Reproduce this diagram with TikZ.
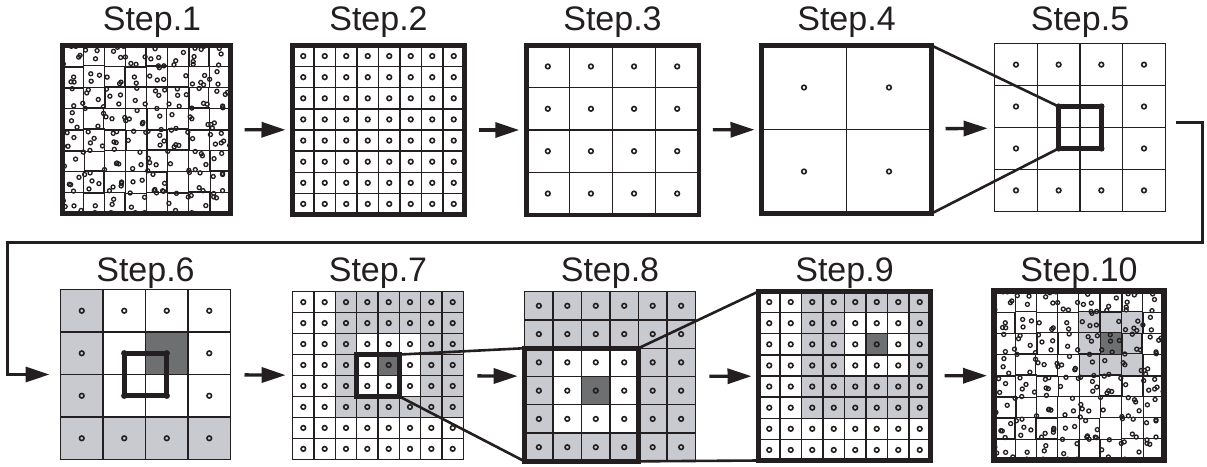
\documentclass[tikz,border=0pt]{standalone}
\usepackage{fontspec}
\setmainfont{Liberation Sans}
\usetikzlibrary{arrows.meta}
\pgfdeclarelayer{back}
\pgfsetlayers{back,main}

\definecolor{ink}{HTML}{231F20}
\definecolor{lightcell}{HTML}{C8CACF}
\definecolor{darkcell}{HTML}{6D6F71}

\tikzset{
  panel/.style={draw=ink, inner sep=0pt, outer sep=0pt},
  heavy/.style={line width=5pt},
  thin/.style={line width=1.4pt},
  gridline/.style={draw=ink, line width=1.3pt},
  pt/.style={draw=ink, line width=1.6pt},
  scat/.style={draw=ink, line width=1.3pt},
  zoomline/.style={draw=ink, line width=2.6pt},
  focus/.style={draw=ink, line width=5pt, line join=miter},
  flow/.style={draw=ink, line width=3.4pt, -{Triangle[length=24pt,width=15pt]},
    shorten <=14pt, shorten >=7pt},
  route/.style={draw=ink, line width=3pt, line join=miter,
    -{Triangle[length=24pt,width=15pt]}, shorten >=11pt},
  steplabel/.style={font=\fontsize{34}{40}\selectfont, anchor=base, text=ink, inner sep=0pt},
}

% grid lines of an n x n panel (cell units)
\newcommand\cellgrid[1]{%
  \pgfmathtruncatemacro\lastline{#1-1}%
  \foreach \k in {1,...,\lastline}{%
    \draw[gridline] (\k,0) -- (\k,#1);
    \draw[gridline] (0,\k) -- (#1,\k);
  }%
}
% one sample point at the centre of every cell
\newcommand\celldots[1]{%
  \foreach \c in {1,...,#1}{\foreach \r in {1,...,#1}{%
    \draw[pt] (\c-.5,\r-.5) circle[radius=2.3pt];}}%
}
% hand-drawn 8 x 8 grid with scattered sample points
\newcommand\scatterpanel{%
  \pgfmathsetseed{2024}%
  \foreach \k in {1,...,7}{\foreach \j in {0,...,7}{%
    \pgfmathsetmacro\jx{0.035*rand}\pgfmathsetmacro\jy{0.035*rand}%
    \draw[gridline] ({\k+(\jx)},\j) -- ({\k+(\jx)},\j+1);
    \draw[gridline] (\j,{\k+(\jy)}) -- (\j+1,{\k+(\jy)});
  }}%
  \foreach \k in {1,...,224}{%
    \pgfmathsetmacro\ja{rand}\pgfmathsetmacro\jb{rnd}\pgfmathsetmacro\jc{rand}%
    \pgfmathsetmacro\dx{max(0.04,min(7.96,8*frac(0.5+\k*0.7548777)+0.4*\ja))}%
    \pgfmathsetmacro\dy{max(0.04,min(7.96,8*frac(0.5+\k*0.5698403)+0.4*\jc))}%
    \draw[scat] (\dx,\dy) circle[radius=2pt];
  }%
}

\begin{document}
\begin{tikzpicture}[x=1pt, y=-1pt]
\useasboundingbox (0,0) rectangle (1207,466);

% ---------- panels ----------
\node[panel, heavy, minimum width=168pt,   minimum height=168pt]   (s1)  at (146.5,129.5) {};
\node[panel, heavy, minimum width=172pt,   minimum height=169pt]   (s2)  at (378.5,130)   {};
\node[panel, line width=4.5pt, minimum width=172.5pt, minimum height=169.5pt] (s3) at (612.5,130) {};
\node[panel, heavy, minimum width=170pt,   minimum height=168pt]   (s4)  at (846.5,129.5) {};
\node[panel, thin,  minimum width=170.7pt, minimum height=167.7pt] (s5)  at (1080,127.5)  {};
\node[panel, thin,  minimum width=170pt,   minimum height=170pt]   (s6)  at (145.5,374.5) {};
\node[panel, thin,  minimum width=170.7pt, minimum height=167.7pt] (s7)  at (378,375.5)   {};
\node[panel, thin,  minimum width=170.7pt, minimum height=169.7pt] (s8)  at (610,376.5)   {};
\node[panel, heavy, minimum width=172pt,   minimum height=169pt]   (s9)  at (844.5,376)   {};
\node[panel, line width=6pt, minimum width=170pt, minimum height=169pt] (s10) at (1079,375.5) {};

% ---------- labels ----------
\node[steplabel] (t1)  at (152,30)    {Step.1};
\node[steplabel] (t2)  at (378.5,30)  {Step.2};
\node[steplabel] (t3)  at (612.5,30)  {Step.3};
\node[steplabel] (t4)  at (846.5,30)  {Step.4};
\node[steplabel] (t5)  at (1080,30)   {Step.5};
\node[steplabel] (t6)  at (145.5,281) {Step.6};
\node[steplabel] (t7)  at (378,281)   {Step.7};
\node[steplabel] (t8)  at (610,281)   {Step.8};
\node[steplabel] (t9)  at (844.5,281) {Step.9};
\node[steplabel] (t10) at (1079,281)  {Step.10};

% ---------- panel contents ----------
\begin{scope}[shift={(s1.north west)}, x=21pt, y=-21pt]
  \scatterpanel
\end{scope}

\begin{scope}[shift={(s2.north west)}, x=21.5pt, y=-21.125pt]
  \cellgrid{8}\celldots{8}
\end{scope}

\begin{scope}[shift={(s3.north west)}, x=43.125pt, y=-42.375pt]
  \cellgrid{4}\celldots{4}
\end{scope}

\begin{scope}[shift={(s4.north west)}, x=85pt, y=-84pt]
  \cellgrid{2}\celldots{2}
\end{scope}

\begin{scope}[shift={(s5.north west)}, x=42.675pt, y=-41.925pt]
  \cellgrid{4}\celldots{4}
  \coordinate (f5nw) at (1.5,1.5);
  \coordinate (f5sw) at (1.5,2.5);
  \coordinate (f5se) at (2.5,2.5);
\end{scope}

\begin{scope}[shift={(s6.north west)}, x=42.5pt, y=-42.5pt]
  \begin{pgfonlayer}{back}
    \fill[lightcell] (0,0) rectangle (1,4);
    \fill[lightcell] (0,3) rectangle (4,4);
    \fill[darkcell] (2,1) rectangle (3,2);
  \end{pgfonlayer}
  \cellgrid{4}\celldots{4}
  \coordinate (f6nw) at (1.5,1.5);
  \coordinate (f6se) at (2.5,2.5);
\end{scope}

\begin{scope}[shift={(s7.north west)}, x=21.3375pt, y=-20.9625pt]
  \begin{pgfonlayer}{back}
    \fill[lightcell] (2,0) rectangle (8,6);
    \fill[white] (3,2) rectangle (6,5);
    \fill[darkcell] (4,3) rectangle (5,4);
  \end{pgfonlayer}
  \cellgrid{8}\celldots{8}
  \coordinate (f7nw) at (3,3);
  \coordinate (f7ne) at (5,3);
  \coordinate (f7se) at (5,5);
\end{scope}

\begin{scope}[shift={(s8.north west)}, x=28.45pt, y=-28.283pt]
  \begin{pgfonlayer}{back}
    \fill[lightcell] (0,0) rectangle (6,6);
    \fill[white] (1,2) rectangle (4,5);
    \fill[darkcell] (2,3) rectangle (3,4);
  \end{pgfonlayer}
  \cellgrid{6}\celldots{6}
  \coordinate (f8nw) at (0,2);
  \coordinate (f8ne) at (4,2);
  \coordinate (f8sw) at (0,6);
  \coordinate (f8se) at (4,6);
\end{scope}

\begin{scope}[shift={(s9.north west)}, x=21.5pt, y=-21.125pt]
  \begin{pgfonlayer}{back}
    \fill[lightcell] (2,0) rectangle (8,6);
    \fill[white] (4,1) rectangle (7,4);
    \fill[darkcell] (5,2) rectangle (6,3);
  \end{pgfonlayer}
  \cellgrid{8}\celldots{8}
\end{scope}

\begin{scope}[shift={(s10.north west)}, x=21.25pt, y=-21.125pt]
  \begin{pgfonlayer}{back}
    \fill[lightcell] (4,1) rectangle (7,4);
    \fill[darkcell] (5,2) rectangle (6,3);
  \end{pgfonlayer}
  \scatterpanel
\end{scope}

% ---------- zoom guides ----------
\draw[zoomline] (s4.north east) -- (f5nw);
\draw[zoomline] (s4.south east) -- (f5sw);
\draw[zoomline] (f7ne) -- (f8nw);
\draw[zoomline] (f7se) -- (f8sw);
\draw[zoomline] (f8ne) -- (s9.north west);
\draw[zoomline] (f8se) -- (s9.south west);

% ---------- focus windows ----------
\draw[focus] (f5nw) rectangle (f5se);
\draw[focus] (f6nw) rectangle (f6se);
\draw[focus] (f7nw) rectangle (f7se);
\draw[focus] (f8nw) rectangle (f8se);

% ---------- flow arrows ----------
\draw[flow] (s1) -- (s2);
\draw[flow] (s2) -- (s3);
\draw[flow] (s3) -- (s4);
\draw[flow] (s4) -- (s5);
\draw[flow] (s6) -- (s7);
\draw[flow] (s7) -- (s8);
\draw[flow] (s8) -- (s9);
\draw[flow] (s9) -- (s10);

% return path from the first row to the second
\coordinate (r1) at (1176,122);
\coordinate (r2) at (1202,242);
\coordinate (r3) at (7,242);
\draw[route] (r1) -| (r2) -- (r3) |- (s6.west);
\end{tikzpicture}
\end{document}
